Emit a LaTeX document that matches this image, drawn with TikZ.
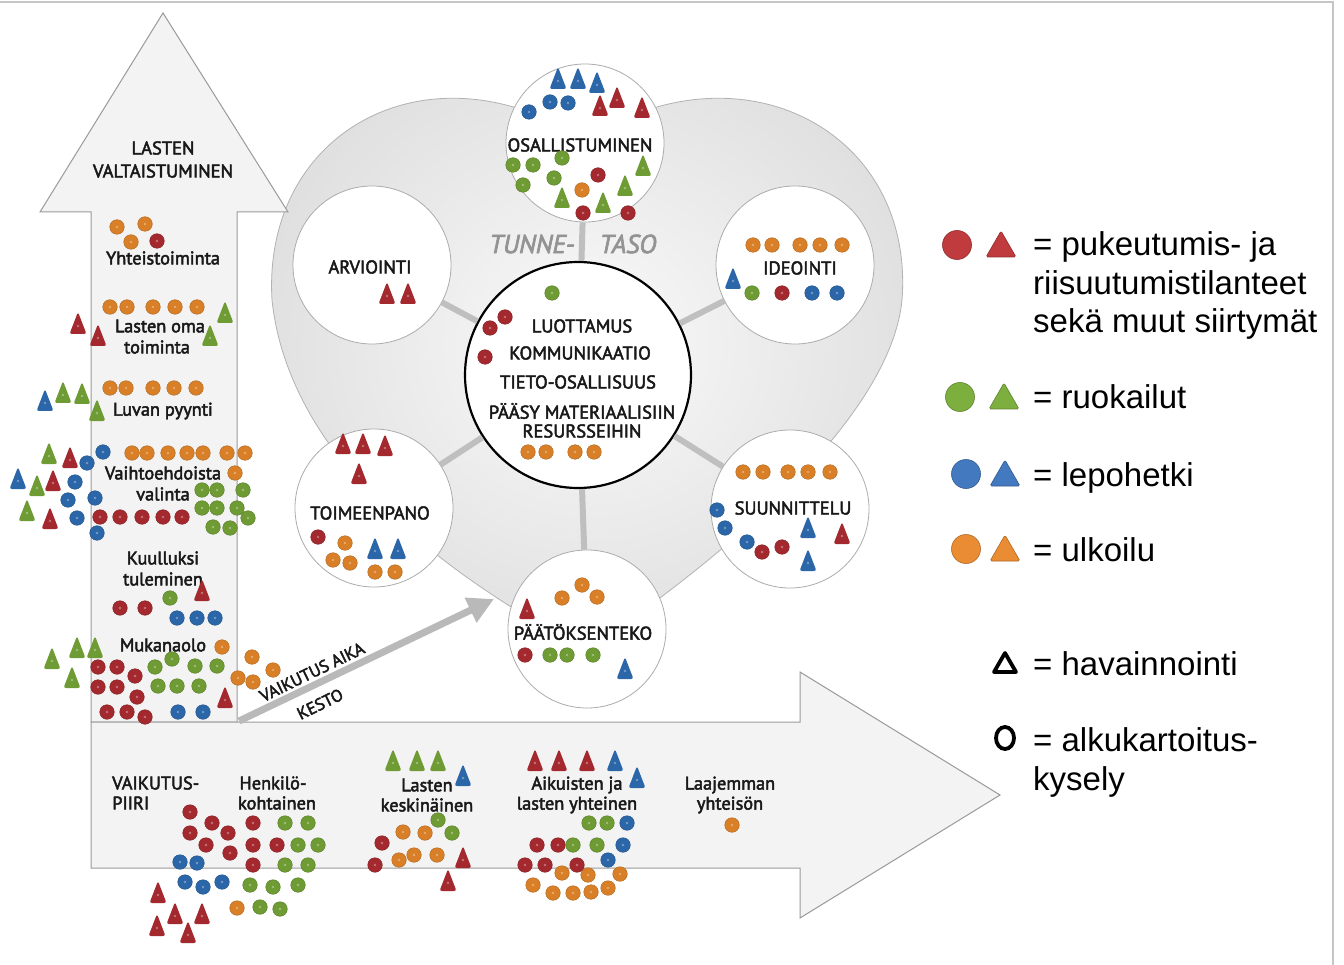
\documentclass[tikz,border=0pt]{standalone}
\usepackage{fontspec}
\setmainfont{PT Sans}
\newfontfamily\labfont{PT Sans}[FakeBold=2.6]
\newfontfamily\legfont{Liberation Sans}
\usetikzlibrary{arrows.meta}
\definecolor{cR}{HTML}{A3292E}
\definecolor{cG}{HTML}{6E9B33}
\definecolor{cB}{HTML}{2B66A8}
\definecolor{cO}{HTML}{D87F27}
\definecolor{lR}{HTML}{C03B3D}
\definecolor{lG}{HTML}{7DAF3F}
\definecolor{lB}{HTML}{4379BE}
\definecolor{lO}{HTML}{EA8C33}
\definecolor{arrfill}{HTML}{F3F3F3}
\definecolor{arredge}{HTML}{9A9A9A}
\newcommand\mydot[3]{\fill[#1,draw=#1!80!black,line width=0.4] (#2,#3) circle (7.3);\fill[#1!65!white] (#2,#3) circle (1.4);}
\newcommand\mytri[3]{\fill[#1,shift={(#2,#3)},rounded corners=2.5] (-8.5,11) -- (0,-11) -- (8.5,11) -- cycle;\fill[#1!65!white] (#2,#3+3) circle (1.3);}
\begin{document}
\begin{tikzpicture}[x=1pt,y=-1pt,
  lab/.style={inner sep=0,text=black!90,font=\labfont\fontsize{18.3}{20}\selectfont},
  caps/.style={inner sep=0,text=black!90,font=\labfont\fontsize{18.5}{20}\selectfont},
  rotlab/.style={inner sep=0,text=black!90,rotate=26,font=\labfont\fontsize{17}{19}\selectfont},
  circ/.style={circle,draw=gray!65,fill=white,line width=0.8,minimum size=158,inner sep=0},
  spoke/.style={draw=gray!50,line width=6},
  leg/.style={inner sep=0,anchor=base west,font=\legfont\fontsize{33}{38}\selectfont},
  tunne/.style={inner sep=0,text=gray!85,font=\labfont\itshape\fontsize{26}{28}\selectfont}]
\useasboundingbox (0,0) rectangle (1344,965);
\fill[white] (0,0) rectangle (1344,965);
\draw[gray!45,line width=1.5] (0,2) -- (1333,2) -- (1333,965);

% heart
\shadedraw[inner color=gray!4, outer color=gray!24, draw=gray!60, line width=0.8]
 (587,650) .. controls (470,590) and (290,470) .. (272,300)
 .. controls (262,130) and (430,40) .. (585,140)
 .. controls (740,40) and (915,130) .. (902,300)
 .. controls (890,420) and (720,560) .. (587,650) -- cycle;

% big arrows
\filldraw[fill=arrfill,draw=arredge,line width=1] (91,722) -- (91,212) -- (40,212) -- (163,13) -- (288,212) -- (237,212) -- (237,722) -- cycle;
\filldraw[fill=arrfill,draw=arredge,line width=1] (91,722) -- (800,722) -- (800,672) -- (1000,795) -- (800,918) -- (800,868) -- (91,868) -- cycle;

% circles
\node[circ,minimum size=226,draw=black,line width=2.2] (ctr) at (578,375) {};
\node[circ] (osa) at (585,143) {};
\node[circ] (arv) at (372,265) {};
\node[circ] (ide) at (795,265) {};
\node[circ] (toi) at (374,508) {};
\node[circ] (suu) at (790,509) {};
\node[circ] (paa) at (587,629) {};
\foreach \n in {osa,arv,ide,toi,suu,paa} {\draw[spoke] (ctr) -- (\n);}

% diagonal arrow
\coordinate (ks) at (239,721);
\coordinate (ke) at (494,599);
\draw[draw=gray!55,line width=7,-{Triangle[length=26pt,width=26pt]}] (ks) -- (ke);

% labels
\node[caps] (l1) at (163,148) {LASTEN};
\node[caps] (l2) at (163,171) {VALTAISTUMINEN};
\node[lab] (l3) at (163,258) {Yhteistoiminta};
\node[lab] (l4) at (160,326) {Lasten oma};
\node[lab] (l5) at (157,347) {toiminta};
\node[lab] (l6) at (163,411) {Luvan pyynti};
\node[lab] (l7) at (163,473) {Vaihtoehdoista};
\node[lab] (l8) at (163,494) {valinta};
\node[lab] (l9) at (163,558) {Kuulluksi};
\node[lab] (l10) at (163,579) {tuleminen};
\node[lab] (l11) at (163,645) {Mukanaolo};
\node[rotlab] (l12) at (312,672) {VAIKUTUS AIKA};
\node[rotlab] (l13) at (320,704) {KESTO};
\node[lab,anchor=west] (l14) at (112,783) {VAIKUTUS-};
\node[lab,anchor=west] (l15) at (112,803) {PIIRI};
\node[lab] (l16) at (273,783) {Henkilö-};
\node[lab] (l17) at (277,803) {kohtainen};
\node[lab] (l18) at (427,785) {Lasten};
\node[lab] (l19) at (427,805) {keskinäinen};
\node[lab] (l20) at (577,785) {Aikuisten ja};
\node[lab] (l21) at (577,805) {lasten yhteinen};
\node[lab] (l22) at (730,785) {Laajemman};
\node[lab] (l23) at (730,805) {yhteisön};
\node[caps] (c1) at (580,145) {OSALLISTUMINEN};
\node[caps] (c2) at (370,267) {ARVIOINTI};
\node[caps] (c3) at (800,268) {IDEOINTI};
\node[caps] (c4) at (370,513) {TOIMEENPANO};
\node[caps] (c5) at (793,508) {SUUNNITTELU};
\node[caps] (c6) at (583,632) {PÄÄTÖKSENTEKO};
\node[caps] (m1) at (582,326) {LUOTTAMUS};
\node[caps] (m2) at (580,353) {KOMMUNIKAATIO};
\node[caps] (m3) at (578,382) {TIETO-OSALLISUUS};
\node[caps] (m4) at (582,411) {PÄÄSY MATERIAALISIIN};
\node[caps] (m5) at (582,431) {RESURSSEIHIN};
\node[tunne] (tt1) at (532,244) {TUNNE-};
\node[tunne] (tt2) at (628,244) {TASO};

% orange dots
\foreach \x/\y in {117/227,145/224,131/242,110/307,127/307,153/307,175/307,197/307,
 110/388,126/388,153/388,174/388,196/388,132/453,147/453,168/453,187/453,203/453,227/453,245/453,235/473,
 222/647,252/657,273/670,238/678,253/682,237/908,403/832,425/833,399/860,414/855,437/855,
 562/873,588/875,620/874,533/885,553/893,573/893,591/892,608/888,732/825,
 528/452,546/452,575/452,594/452,345/543,333/560,350/563,375/572,395/572,
 753/245,772/245,800/245,820/245,842/245,743/472,763/472,788/472,808/472,830/472,
 562/598,582/585,597/597,582/190} {\mydot{cO}{\x}{\y}}
% red dots
\foreach \x/\y in {157/241,100/517,120/517,142/517,163/517,182/517,120/608,145/608,
 98/667,117/667,135/676,98/687,117/687,137/697,107/712,127/712,145/717,
 190/812,212/823,190/833,228/833,206/845,230/853,253/823,253/845,277/845,253/865,
 382/843,375/865,537/845,558/845,525/865,545/865,577/865,505/317,490/328,485/357,
 318/537,782/293,762/552,782/547,525/655,598/175,583/213,628/213} {\mydot{cR}{\x}{\y}}
% green dots
\foreach \x/\y in {202/490,217/490,243/490,202/508,217/508,237/508,248/518,213/527,230/528,170/598,
 155/667,172/659,195/666,217/666,158/686,177/686,199/686,
 285/823,308/823,298/845,318/845,285/865,308/865,250/885,273/887,298/885,260/907,280/909,
 438/820,452/833,589/823,607/823,573/845,597/845,552/293,752/293,550/655,567/655,593/655,
 513/165,533/165,562/158,523/185,554/178} {\mydot{cG}{\x}{\y}}
% blue dots
\foreach \x/\y in {103/452,87/463,75/482,68/500,95/498,77/518,97/533,177/618,197/618,215/618,
 178/712,203/712,180/862,197/863,185/882,203/887,222/882,627/823,623/845,608/860,
 812/293,837/293,717/510,725/528,747/542,529/112,550/102,568/103} {\mydot{cB}{\x}{\y}}
% red triangles
\foreach \x/\y in {78/323,98/335,70/457,53/480,50/518,202/590,225/697,158/892,175/913,202/913,157/925,188/932,
 463/857,448/880,535/760,559/760,587/760,387/293,408/293,343/443,363/443,385/445,359/473,842/533,527/608,
 600/105,617/97,642/107} {\mytri{cR}{\x}{\y}}
% green triangles
\foreach \x/\y in {225/312,210/335,63/392,82/393,97/410,49/453,37/485,27/510,52/658,77/647,95/647,72/677,
 393/760,417/760,438/760,562/197,643/165,625/185,603/202} {\mytri{cG}{\x}{\y}}
% blue triangles
\foreach \x/\y in {45/400,18/478,463/775,615/760,637/777,375/548,398/548,733/278,808/527,808/560,625/668,
 558/78,578/78,597/82} {\mytri{cB}{\x}{\y}}

% legend
\fill[lR,draw=lR!75!black,line width=0.6] (957,245) circle (14.5);
\fill[lR,draw=lR!75!black,line width=0.6,rounded corners=1.5] (986,257) -- (1001,231) -- (1016,257) -- cycle;
\fill[lG,draw=lG!75!black,line width=0.6] (960,397) circle (14.5);
\fill[lG,draw=lG!75!black,line width=0.6,rounded corners=1.5] (989,409) -- (1004,383) -- (1019,409) -- cycle;
\fill[lB,draw=lB!75!black,line width=0.6] (966,474) circle (14.5);
\fill[lB,draw=lB!75!black,line width=0.6,rounded corners=1.5] (990,486) -- (1005,460) -- (1020,486) -- cycle;
\fill[lO,draw=lO!75!black,line width=0.6] (966,549) circle (14.5);
\fill[lO,draw=lO!75!black,line width=0.6,rounded corners=1.5] (990,561) -- (1005,535) -- (1020,561) -- cycle;
\draw[black,line width=3.8,line join=round] (994,672) -- (1005,653) -- (1016,672) -- cycle;
\draw[black,line width=3.8] (1005,738) ellipse (9 and 11);
\node[leg] (g1) at (1033,256) {= pukeutumis- ja};
\node[leg] (g2) at (1033,295) {riisuutumistilanteet};
\node[leg] (g3) at (1033,333) {sekä muut siirtymät};
\node[leg] (g4) at (1033,409) {= ruokailut};
\node[leg] (g5) at (1033,486) {= lepohetki};
\node[leg] (g6) at (1033,561) {= ulkoilu};
\node[leg] (g7) at (1033,675) {= havainnointi};
\node[leg] (g8) at (1033,751) {= alkukartoitus-};
\node[leg] (g9) at (1033,790) {kysely};
\end{tikzpicture}
\end{document}
